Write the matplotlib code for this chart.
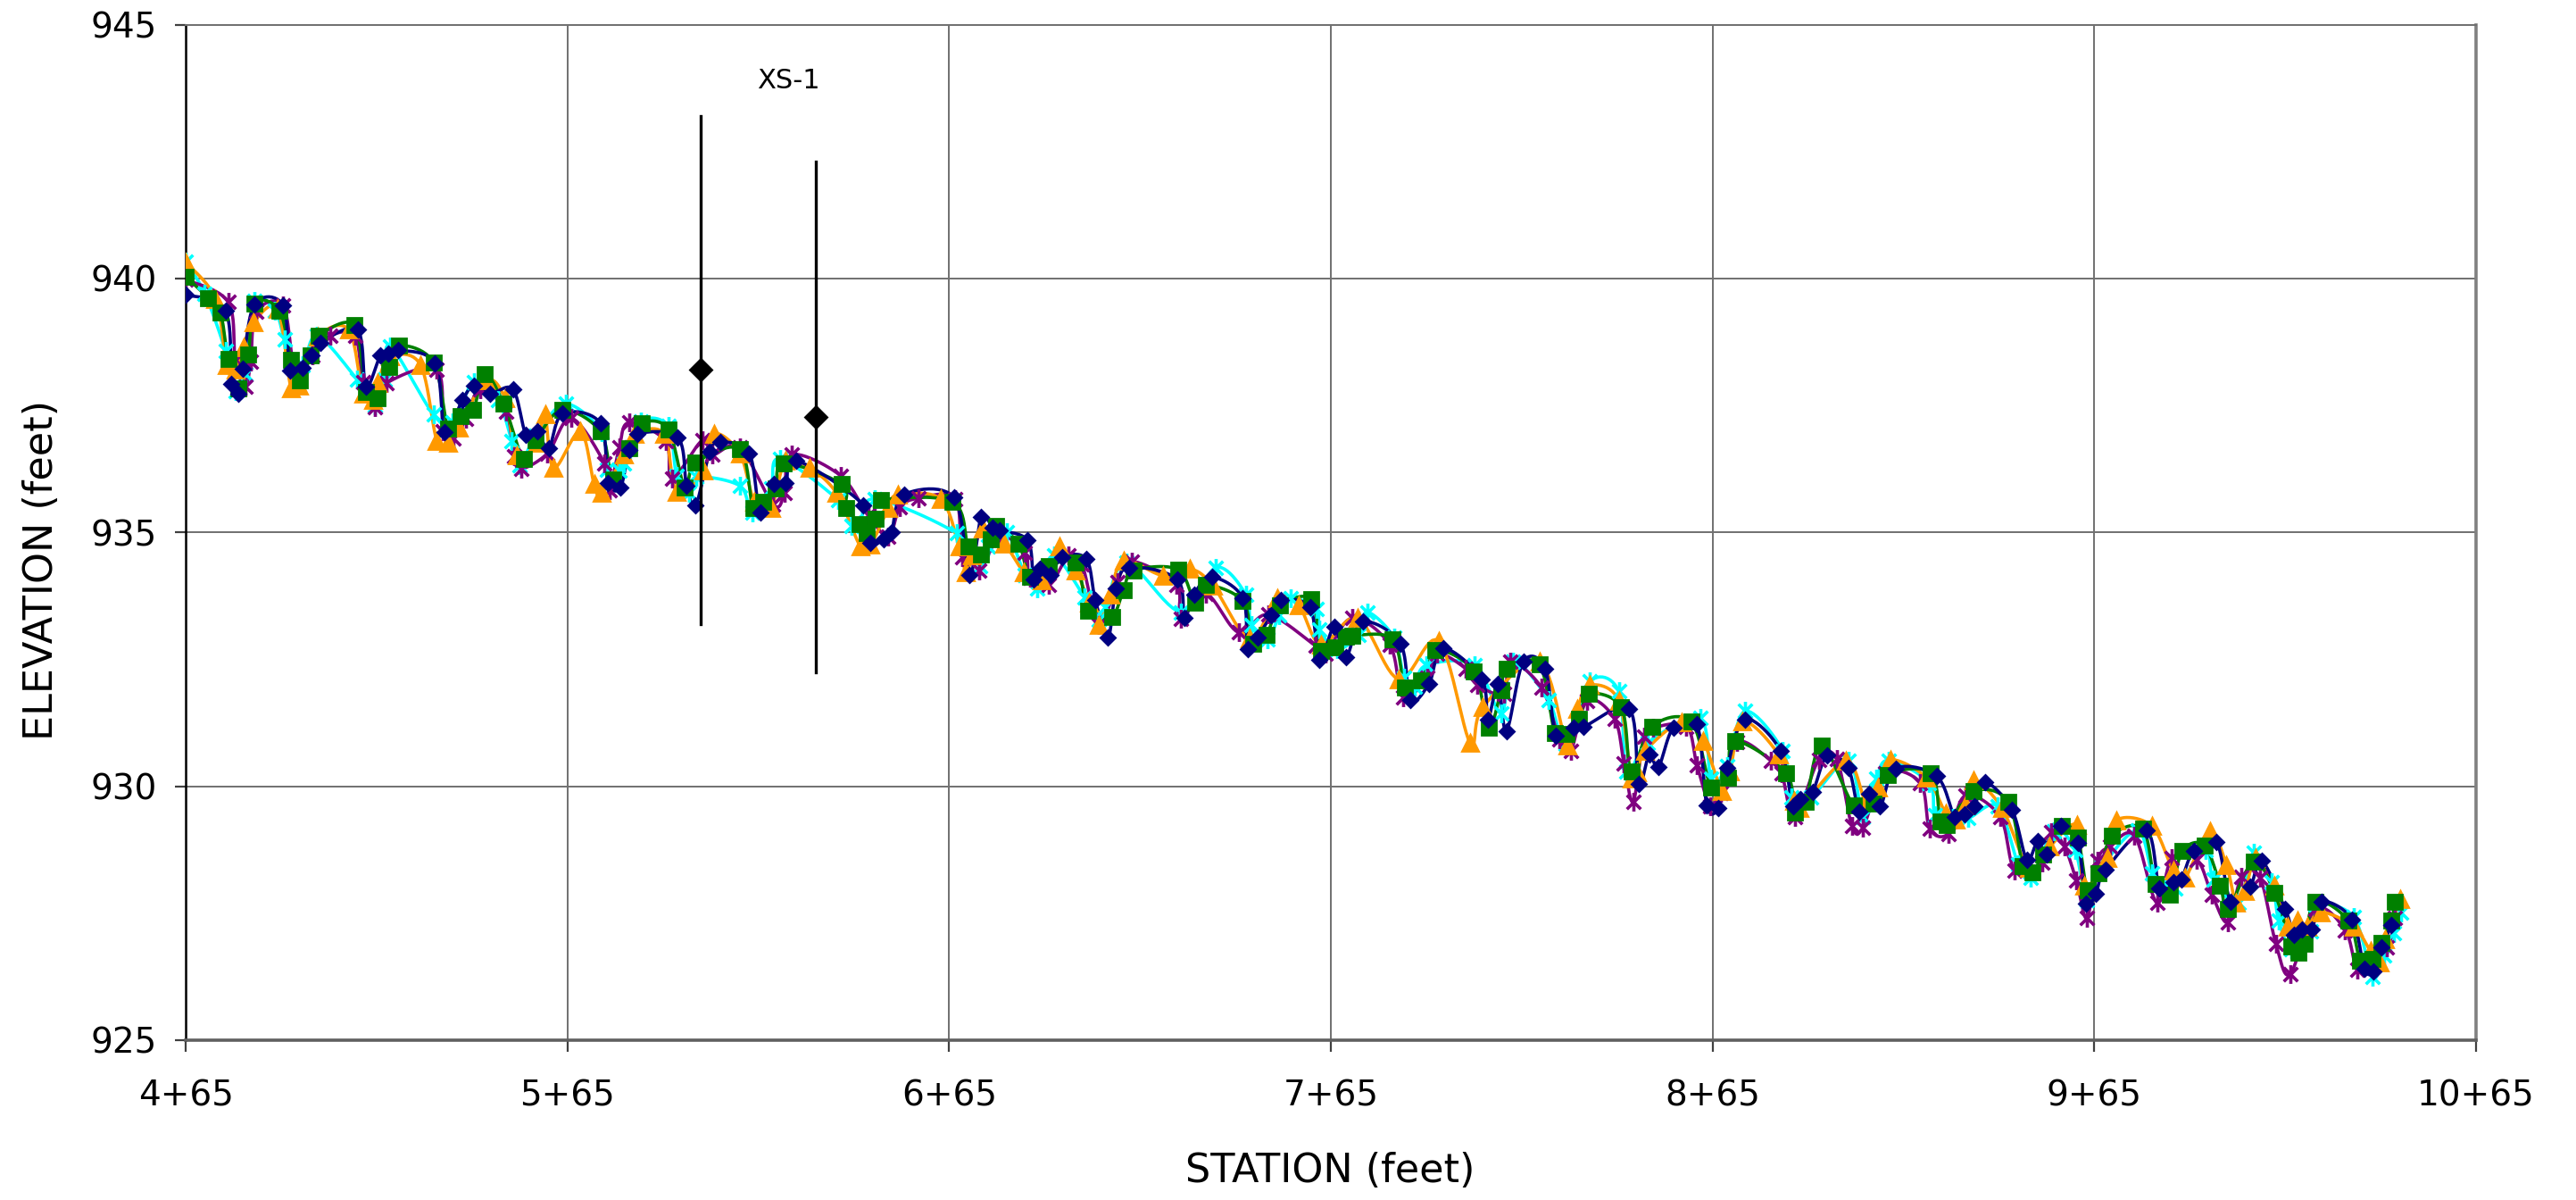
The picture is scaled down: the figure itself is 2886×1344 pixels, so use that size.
import numpy as np
import matplotlib
matplotlib.use('Agg')
import matplotlib.pyplot as plt
from matplotlib.path import Path

# station (ft) and water-surface / bed elevation (ft) for each survey
navy_x = [465, 475.4, 477.0, 478.75, 479.9, 483.0, 490.5, 492.3, 495.7, 498.0, 500.4, 510.0, 512.2, 516.0, 518.1,
          520.7, 530.3, 532.9, 537.4, 540.5, 544.7, 550.7, 554.1, 557.0, 560.1, 563.75, 573.6, 575.7, 578.9, 581.1,
          583.2, 593.9, 596.2, 598.6, 602.3, 605.1, 612.6, 615.5, 619.1, 622.2, 624.9, 642.5, 644.3, 647.9, 649.9,
          653.1, 666.2, 670.3, 673.4, 676.4, 678.3, 685.6, 687.1, 688.8, 691.6, 694.5, 700.9, 703.3, 706.6, 708.7,
          712.1, 724.7, 726.6, 729.1, 733.8, 741.9, 743.2, 745.7, 749.4, 751.9, 759.5, 762.0, 765.9, 768.9, 773.3,
          783.2, 785.8, 790.7, 794.4, 804.5, 806.1, 808.8, 811.0, 815.4, 821.1, 824.0, 828.6, 831.2, 843.2, 845.6,
          848.4, 850.8, 854.7, 860.9, 863.5, 866.5, 868.8, 873.5, 882.8, 886.0, 888.1, 891.2, 895.0, 900.5, 903.4,
          906.0, 908.9, 913.0, 923.7, 928.4, 931.0, 933.6, 936.4, 943.4, 947.3, 950.2, 952.5, 956.2, 960.7, 962.9,
          965.4, 967.9, 978.6, 982.1, 985.7, 987.8, 991.0, 997.0, 1000.8, 1005.8, 1008.9, 1015.0, 1017.4, 1019.5,
          1022.0, 1024.6, 1032.5, 1035.8, 1038.2, 1040.3, 1042.8]
navy_y = [939.68, 939.37, 937.92, 937.73, 938.23, 939.49, 939.47, 938.19, 938.24, 938.49, 938.74, 938.99, 937.87,
          938.48, 938.53, 938.59, 938.33, 936.97, 937.6, 937.89, 937.73, 937.82, 936.93, 936.99, 936.66, 937.34,
          937.15, 935.98, 935.89, 936.62, 936.94, 936.87, 935.92, 935.54, 936.59, 936.78, 936.56, 935.39, 935.96,
          935.98, 936.42, 935.54, 934.79, 934.87, 935.01, 935.74, 935.69, 934.16, 935.3, 935.1, 935.04, 934.84,
          934.07, 934.28, 934.16, 934.51, 934.48, 933.66, 932.93, 933.89, 934.31, 934.08, 933.32, 933.78, 934.12,
          933.71, 932.7, 932.93, 933.37, 933.66, 933.52, 932.49, 933.14, 932.54, 933.24, 932.81, 931.7, 932.02,
          932.72, 932.11, 931.32, 932.02, 931.09, 932.45, 932.32, 931.0, 931.15, 931.17, 931.52, 930.04, 930.62,
          930.38, 931.15, 931.22, 929.62, 929.58, 930.36, 931.32, 930.7, 929.6, 929.75, 929.89, 930.6, 930.36,
          929.5, 929.85, 929.6, 930.35, 930.2, 929.4, 929.44, 929.6, 930.08, 929.54, 928.56, 928.92, 928.65, 929.22,
          928.88, 927.69, 927.89, 928.35, 929.13, 927.99, 928.12, 928.17, 928.72, 928.9, 927.72, 928.02, 928.53,
          927.58, 927.07, 927.18, 927.18, 927.73, 927.38, 926.4, 926.36, 926.82, 927.26]

green_x = [465, 470.9, 474.1, 476.1, 478.75, 481.4, 483.0, 489.5, 492.6, 494.9, 497.8, 499.9, 509.1, 512.2, 515.3,
           518.4, 520.9, 529.9, 533.75, 536.9, 540.3, 543.4, 548.3, 553.5, 556.7, 563.6, 573.6, 576.9, 581.1, 584.5,
           591.4, 595.7, 598.6, 610.1, 613.6, 616.3, 619.5, 621.7, 636.8, 638.0, 641.5, 643.3, 645.8, 647.1, 665.9,
           670.0, 673.3, 675.8, 677.3, 683.2, 686.1, 691.2, 698.2, 701.5, 707.6, 710.7, 713.4, 724.9, 729.5, 732.3,
           741.9, 744.7, 748.2, 751.7, 759.9, 762.4, 766.1, 768.9, 770.6, 781.1, 784.5, 788.7, 792.3, 802.4, 806.3,
           809.6, 811.0, 819.6, 823.7, 826.8, 830.1, 832.6, 841.1, 843.7, 849.1, 859.4, 864.6, 869.0, 870.8, 884.2,
           886.5, 889.4, 893.6, 901.9, 907.1, 910.8, 922.1, 924.6, 926.4, 933.4, 942.4, 946.3, 948.8, 951.5, 956.4,
           960.6, 963.2, 966.2, 969.7, 977.7, 981.0, 984.9, 988.0, 993.8, 998.0, 1000.1, 1006.7, 1012.2, 1016.6,
           1018.5, 1020.1, 1022.9, 1031.6, 1034.7, 1037.9, 1040.2, 1042.8, 1043.8]
green_y = [940.04, 939.62, 939.33, 938.42, 937.83, 938.51, 939.51, 939.37, 938.39, 937.99, 938.49, 938.87, 939.08,
           937.77, 937.65, 938.26, 938.68, 938.35, 937.05, 937.29, 937.41, 938.11, 937.53, 936.44, 936.82, 937.41,
           936.99, 936.04, 936.66, 937.15, 937.03, 935.89, 936.37, 936.64, 935.48, 935.6, 935.86, 936.36, 935.95,
           935.48, 935.16, 934.98, 935.26, 935.63, 935.6, 934.73, 934.57, 934.87, 935.12, 934.78, 934.13, 934.34,
           934.4, 933.46, 933.34, 933.87, 934.25, 934.27, 933.62, 933.96, 933.65, 932.81, 932.99, 933.56, 933.68,
           932.67, 932.74, 932.95, 932.97, 932.9, 931.95, 932.09, 932.68, 932.27, 931.16, 931.9, 932.32, 932.4,
           931.05, 931.03, 931.33, 931.82, 931.55, 930.3, 931.18, 931.27, 929.98, 930.17, 930.89, 930.26, 929.48,
           929.7, 930.81, 929.63, 929.66, 930.23, 930.26, 929.31, 929.23, 929.9, 929.7, 928.43, 928.3, 928.65,
           929.22, 928.99, 927.96, 928.28, 929.03, 929.16, 928.08, 927.87, 928.72, 928.84, 928.05, 927.58, 928.52,
           927.9, 926.85, 926.73, 926.89, 927.73, 927.35, 926.56, 926.6, 926.92, 927.36, 927.73]

orange_x = [465, 472.8, 475.7, 478.0, 480.1, 482.7, 489.0, 492.6, 494.7, 499.7, 507.7, 511.4, 514.0, 515.3, 518.6,
            526.5, 530.8, 533.75, 536.6, 543.6, 548.6, 551.8, 557.0, 559.1, 561.4, 568.4, 572.0, 573.9, 579.9, 582.7,
            590.3, 593.6, 600.7, 603.3, 610.1, 614.0, 618.3, 622.2, 628.4, 635.5, 641.7, 644.4, 649.1, 651.6, 662.7,
            667.6, 669.4, 671.1, 673.9, 679.5, 684.6, 689.2, 693.9, 698.2, 701.7, 704.1, 707.2, 710.7, 721.0, 728.1,
            734.1, 743.7, 751.0, 756.6, 762.4, 772.0, 782.7, 793.2, 801.5, 804.8, 819.6, 827.0, 829.6, 832.7, 840.4,
            843.7, 845.3, 847.4, 856.8, 862.5, 867.5, 869.6, 872.9, 882.3, 886.3, 887.8, 899.9, 905.2, 908.3, 911.5,
            921.0, 926.1, 928.6, 931.3, 933.4, 940.8, 947.9, 953.3, 960.4, 962.3, 968.4, 970.8, 980.0, 985.7, 988.8,
            995.2, 999.6, 1002.1, 1004.5, 1007.3, 1012.2, 1015.7, 1018.3, 1020.7, 1024.4, 1032.9, 1037.3, 1039.7,
            1041.2, 1045.2]
orange_y = [940.32, 939.6, 938.3, 938.2, 938.64, 939.13, 939.4, 937.83, 937.89, 938.85, 938.99, 937.73, 937.61,
            937.94, 938.46, 938.3, 936.8, 936.77, 937.07, 937.99, 937.64, 936.52, 936.77, 937.32, 936.27, 936.99,
            935.95, 935.77, 936.53, 936.94, 936.94, 935.8, 936.21, 936.94, 936.56, 935.6, 935.48, 936.41, 936.27,
            935.77, 934.73, 934.75, 935.48, 935.74, 935.66, 934.72, 934.22, 934.55, 935.08, 934.77, 934.22, 934.05,
            934.72, 934.25, 933.61, 933.17, 933.78, 934.44, 934.15, 934.28, 933.95, 932.91, 933.7, 933.56, 932.79,
            933.31, 932.11, 932.86, 930.85, 931.56, 932.45, 930.8, 931.52, 931.99, 931.69, 930.15, 930.28, 930.7,
            931.26, 930.89, 929.91, 930.29, 931.27, 930.62, 929.72, 929.57, 930.5, 929.69, 929.98, 930.52, 930.17,
            929.46, 929.34, 929.62, 930.11, 929.57, 928.39, 928.81, 929.23, 928.05, 928.58, 929.33, 929.22, 928.34,
            928.2, 929.12, 928.45, 927.71, 927.94, 928.58, 928.05, 927.24, 927.36, 927.23, 927.52, 927.24, 926.76,
            926.53, 926.98, 927.77]

purple_x = [465, 476.1, 478.0, 480.6, 482.0, 483.5, 490.5, 493.6, 498.3, 502.8, 509.3, 511.4, 514.5, 517.6, 530.8,
            532.4, 535.1, 538.4, 542.1, 548.9, 551.0, 552.8, 559.8, 566.0, 574.7, 576.0, 578.6, 581.1, 590.7, 592.4,
            600.4, 603.0, 610.1, 618.9, 621.8, 623.8, 636.5, 643.8, 649.1, 652.1, 656.9, 666.6, 668.4, 672.9, 678.3,
            684.9, 686.1, 691.2, 696.3, 699.8, 704.3, 709.0, 712.9, 724.5, 725.6, 732.3, 740.8, 748.6, 760.9, 763.6,
            770.5, 780.4, 783.9, 790.2, 792.9, 800.3, 803.3, 810.4, 811.9, 820.2, 824.9, 827.8, 832.2, 839.3, 841.8,
            844.2, 847.0, 849.4, 858.1, 860.9, 864.4, 867.2, 871.4, 880.2, 883.1, 886.5, 892.8, 897.5, 901.5, 904.4,
            910.2, 919.4, 921.9, 926.8, 931.3, 940.3, 944.2, 951.4, 953.7, 957.2, 960.3, 963.1, 965.8, 969.1, 975.5,
            981.4, 985.3, 991.9, 995.8, 1000.0, 1003.6, 1008.4, 1012.6, 1016.3, 1022.9, 1030.7, 1033.8, 1036.7,
            1041.7, 1043.8]
purple_y = [939.98, 939.54, 938.4, 937.87, 938.36, 939.34, 939.47, 938.23, 938.49, 938.87, 938.87, 937.96, 937.47,
            937.94, 938.2, 936.99, 936.85, 937.23, 937.82, 937.38, 936.5, 936.25, 936.56, 937.25, 936.36, 935.83,
            936.68, 937.16, 936.8, 936.06, 936.82, 936.53, 936.68, 935.55, 935.77, 936.53, 936.12, 935.33, 934.92,
            935.49, 935.67, 935.66, 934.51, 934.25, 934.92, 934.6, 934.1, 933.96, 934.54, 934.37, 933.17, 934.02,
            934.43, 933.97, 933.3, 933.79, 933.03, 933.38, 932.77, 932.61, 933.31, 932.79, 931.76, 932.14, 932.61,
            932.32, 932.0, 931.82, 932.46, 931.94, 930.92, 930.69, 931.69, 931.33, 930.45, 929.7, 930.98, 931.15,
            931.18, 930.42, 929.6, 929.87, 930.87, 930.51, 930.25, 929.4, 930.52, 930.54, 929.22, 929.19, 930.25,
            930.07, 929.16, 929.07, 929.82, 929.4, 928.34, 928.49, 929.09, 928.81, 928.14, 927.4, 928.53, 928.82,
            929.03, 927.7, 928.58, 928.55, 927.87, 927.32, 928.22, 928.2, 926.89, 926.3, 927.58, 927.17, 926.38,
            926.53, 926.82, 927.4]

cyan_x = [465, 470.0, 475.4, 478.0, 480.6, 483.0, 488.4, 491.0, 495.5, 499.4, 509.8, 514.5, 517.1, 518.6, 529.9,
          534.8, 540.5, 546.8, 550.4, 552.5, 556.7, 564.5, 574.0, 575.4, 578.6, 579.9, 584.3, 591.4, 593.6, 596.8,
          598.8, 610.1, 613.4, 618.3, 620.6, 636.0, 639.4, 641.7, 645.6, 667.0, 673.1, 675.2, 680.0, 684.9, 688.0,
          692.4, 700.5, 704.3, 705.9, 711.5, 725.8, 734.9, 742.7, 744.1, 748.4, 751.5, 754.4, 761.3, 762.0, 766.7,
          772.2, 774.5, 781.5, 784.2, 786.9, 789.9, 802.6, 809.6, 812.7, 822.0, 826.5, 832.8, 840.4, 842.5, 847.9,
          861.7, 864.6, 868.8, 873.5, 883.4, 885.7, 890.7, 900.6, 904.4, 907.9, 911.2, 921.7, 923.3, 928.0, 932.0,
          939.7, 945.1, 948.4, 954.5, 959.9, 963.1, 967.0, 976.3, 980.2, 983.3, 986.3, 994.2, 996.2, 1002.8, 1006.7,
          1011.5, 1013.3, 1016.7, 1021.8, 1022.9, 1032.9, 1037.9, 1040.8, 1043.4, 1045.4]
cyan_y = [940.33, 939.7, 938.58, 937.79, 938.11, 939.56, 939.37, 938.81, 938.29, 938.87, 938.02, 937.5, 938.02,
          938.67, 937.32, 937.17, 937.95, 937.61, 936.8, 936.33, 936.91, 937.53, 936.97, 936.24, 936.21, 936.36,
          937.18, 937.09, 936.12, 935.77, 936.09, 935.92, 935.39, 935.86, 936.45, 935.63, 935.13, 935.16, 935.66,
          934.98, 934.34, 934.73, 935.0, 934.16, 933.9, 934.54, 933.72, 933.28, 933.52, 934.4, 933.43, 934.31,
          933.78, 933.17, 932.9, 933.37, 933.71, 933.49, 933.08, 932.7, 932.99, 933.43, 932.93, 932.14, 931.97,
          932.38, 932.39, 931.44, 932.46, 931.7, 930.83, 932.06, 931.87, 930.29, 930.85, 931.34, 930.15, 930.39,
          931.48, 930.7, 929.78, 929.78, 930.51, 929.4, 930.16, 930.51, 930.07, 929.43, 929.37, 929.37, 929.6,
          928.46, 928.2, 929.12, 928.75, 927.76, 928.41, 929.13, 928.28, 928.02, 927.99, 928.75, 928.17, 927.7,
          928.69, 928.11, 927.35, 926.79, 927.14, 927.67, 927.43, 926.24, 926.67, 927.11, 927.52]

# cross section XS-1 markers
xs_station = [600, 630]
xs_bottom = [933.2, 932.25]
xs_mid = [938.2, 937.27]
xs_top = [943.2, 942.3]

tick_stations = [465, 565, 665, 765, 865, 965, 1065]
tick_labels = ['4+65', '5+65', '6+65', '7+65', '8+65', '9+65', '10+65']


def smooth(x, y, n=12):
    # excel style smoothed line: cubic bezier through the points
    x = np.asarray(x, float)
    y = np.asarray(y, float)
    px = np.concatenate([[x[0]], x, [x[-1]]])
    py = np.concatenate([[y[0]], y, [y[-1]]])
    t = np.linspace(0, 1, n, endpoint=False)[:, None]
    xs, ys = [], []
    for i in range(1, len(px) - 2):
        p0 = np.array([px[i], py[i]])
        p3 = np.array([px[i + 1], py[i + 1]])
        c1 = p0 + (p3 - np.array([px[i - 1], py[i - 1]])) / 6
        c2 = p3 - (np.array([px[i + 2], py[i + 2]]) - p0) / 6
        pts = (1 - t) ** 3 * p0 + 3 * (1 - t) ** 2 * t * c1 + 3 * (1 - t) * t ** 2 * c2 + t ** 3 * p3
        xs.extend(pts[:, 0])
        ys.extend(pts[:, 1])
    xs.append(x[-1])
    ys.append(y[-1])
    return xs, ys


asterisk = Path([(-0.75, -0.75), (0.75, 0.75), (-0.75, 0.75), (0.75, -0.75), (0, -1), (0, 1)],
                [Path.MOVETO, Path.LINETO, Path.MOVETO, Path.LINETO, Path.MOVETO, Path.LINETO])

fig = plt.figure(figsize=(14.43, 6.72), dpi=200)
ax = fig.add_axes([0.0721, 0.1332, 0.9612 - 0.0721, 0.9795 - 0.1332])

series = [
    (cyan_x, cyan_y, '#00FFFF', asterisk, 7.5, 'none'),
    (purple_x, purple_y, '#800080', asterisk, 7.5, 'none'),
    (orange_x, orange_y, '#FF9900', '^', 6.5, None),
    (green_x, green_y, '#008000', 's', 5.5, None),
    (navy_x, navy_y, '#000080', 'D', 4.0, None),
]
for sx, sy, c, m, ms, fc in series:
    lx, ly = smooth(sx, sy)
    ax.plot(lx, ly, color=c, lw=1.3, zorder=3)
    if fc == 'none':
        ax.plot(sx, sy, ls='none', marker=m, ms=ms, mec=c, mfc='none', mew=1.3, zorder=4)
    else:
        ax.plot(sx, sy, ls='none', marker=m, ms=ms, mec=c, mfc=c, zorder=4)

for st, b, mid, tp in zip(xs_station, xs_bottom, xs_mid, xs_top):
    ax.plot([st, st], [b, tp], color='black', lw=1.2, zorder=5)
    ax.plot([st], [mid], marker='D', ms=6, color='black', zorder=6)
ax.text(623, 943.9, 'XS-1', ha='center', va='center', fontsize=11)

ax.set_xlim(465, 1065)
ax.set_ylim(925, 945)
ax.set_xticks(tick_stations)
ax.set_xticklabels(tick_labels)
ax.set_yticks([925, 930, 935, 940, 945])
ax.grid(True, color='#707070', lw=0.7)
ax.set_axisbelow(True)
ax.tick_params(direction='out', length=4.5, width=0.8, color='#404040', labelsize=14)
ax.tick_params(axis='x', pad=11)
ax.tick_params(axis='y', pad=7)
ax.spines['top'].set_color('#707070')
ax.spines['top'].set_linewidth(0.7)
ax.spines['left'].set_color('black')
ax.spines['left'].set_linewidth(0.9)
ax.spines['bottom'].set_color('#606060')
ax.spines['bottom'].set_linewidth(1.3)
ax.spines['right'].set_color('#808080')
ax.spines['right'].set_linewidth(1.3)

fig.text(0.016, 0.525, 'ELEVATION (feet)', rotation=90, ha='center', va='center', fontsize=16)
fig.text(0.5165, 0.024, 'STATION (feet)', ha='center', va='center', fontsize=16)

fig.savefig('out.png', dpi=200)
